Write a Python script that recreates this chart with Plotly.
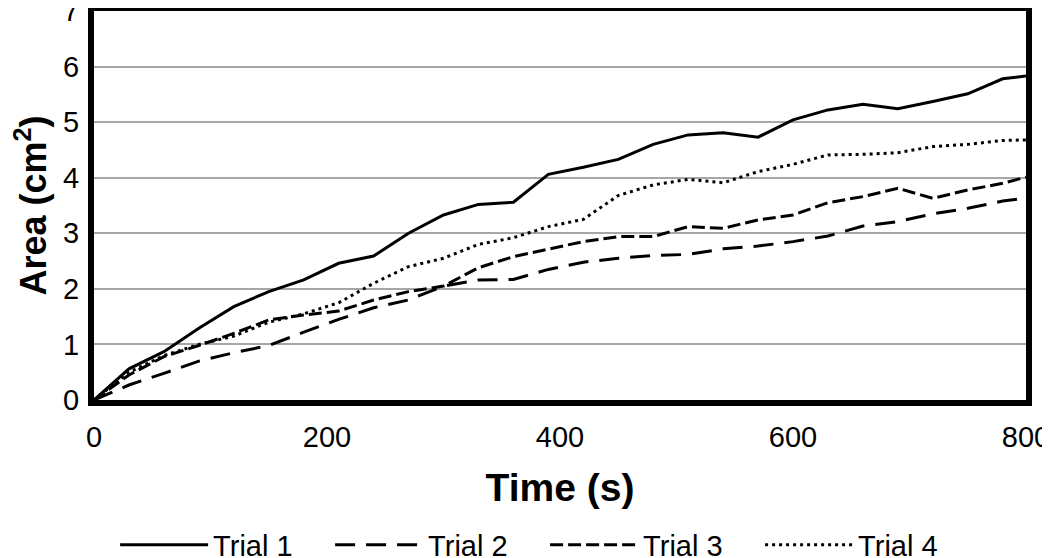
import plotly.graph_objects as go

time_s = [0, 30, 60, 90, 120, 150, 180, 210, 240, 270, 300, 330, 360, 390, 420,
          450, 480, 510, 540, 570, 600, 630, 660, 690, 720, 750, 780, 800]
trial1 = [0, 0.56, 0.87, 1.29, 1.68, 1.95, 2.16, 2.46, 2.59, 3.0, 3.33, 3.52, 3.56, 4.06,
          4.19, 4.33, 4.60, 4.77, 4.81, 4.73, 5.04, 5.22, 5.32, 5.24, 5.37, 5.51, 5.78, 5.83]
trial2 = [0, 0.27, 0.48, 0.7, 0.85, 0.98, 1.22, 1.45, 1.66, 1.8, 2.05, 2.16, 2.17, 2.35,
          2.48, 2.55, 2.6, 2.62, 2.72, 2.77, 2.85, 2.95, 3.13, 3.21, 3.35, 3.45, 3.58, 3.63]
trial3 = [0, 0.45, 0.78, 0.98, 1.2, 1.44, 1.53, 1.6, 1.8, 1.95, 2.05, 2.38, 2.58, 2.72,
          2.85, 2.94, 2.94, 3.12, 3.09, 3.24, 3.33, 3.55, 3.66, 3.81, 3.63, 3.78, 3.9, 4.01]
trial4 = [0, 0.5, 0.8, 1.0, 1.15, 1.4, 1.55, 1.75, 2.1, 2.4, 2.55, 2.8, 2.92, 3.12,
          3.25, 3.68, 3.87, 3.97, 3.91, 4.11, 4.24, 4.41, 4.42, 4.45, 4.56, 4.6, 4.67, 4.68]

series = [
    ("Trial 1", trial1, "solid", 3),
    ("Trial 2", trial2, "20px,11px", 3),
    ("Trial 3", trial3, "13px,5px", 3),
    ("Trial 4", trial4, "3px,4px", 3),
]

FONT = "Liberation Sans, Arial, sans-serif"

fig = go.Figure()
for name, vals, dash, w in series:
    fig.add_trace(go.Scatter(x=time_s, y=vals, mode="lines", name=name,
                             line=dict(color="black", width=w, dash=dash)))

fig.update_layout(
    width=1050, height=558,
    margin=dict(l=86, r=32, t=3, b=166, autoexpand=False),
    paper_bgcolor="white", plot_bgcolor="white",
    font=dict(family=FONT, color="black", size=29),
    showlegend=True,
    legend=dict(orientation="h", xref="container", x=0.102, xanchor="left",
                yref="container", y=0.038, yanchor="middle",
                entrywidth=112, entrywidthmode="pixels",
                font=dict(size=29, family=FONT), itemwidth=88, tracegroupgap=0),
    xaxis=dict(range=[0, 800], dtick=200, showgrid=False, zeroline=False, automargin=False,
               showline=True, mirror=True, linewidth=6, linecolor="black",
               ticks="", ticklen=0, ticklabeloverflow="allow", ticklabelstandoff=6,
               tickfont=dict(size=29, family=FONT),
               title=dict(text="<b>Time (s)</b>", font=dict(size=39, family=FONT), standoff=24)),
    yaxis=dict(range=[0, 7], dtick=1, showgrid=True, gridcolor="#A6A6A6", gridwidth=1.5,
               zeroline=False, showline=True, mirror=True, linewidth=6, linecolor="black",
               automargin=False, ticks="", ticklabeloverflow="allow", ticklabelstandoff=3,
               tickfont=dict(size=29, family=FONT),
               title=dict(text="<b>Area (cm<sup>2</sup>)</b>", font=dict(size=36, family=FONT), standoff=49)),
)

fig.write_html("out.html")
